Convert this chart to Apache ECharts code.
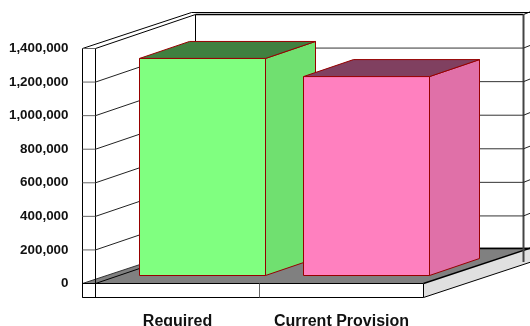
<!DOCTYPE html>
<html>
<head>
<meta charset="utf-8">
<style>html,body{margin:0;padding:0;background:#fff}#chart{width:530px;height:326px}</style>
<script src="https://cdn.jsdelivr.net/npm/echarts@6/dist/echarts.min.js"></script>
</head>
<body>
<div id="chart"></div>
<script>
// Provision figures
const categories = ['Required', 'Current Provision'];
const provisionValues = [1293000, 1185000];
const gridTicks = [200000, 400000, 600000, 800000, 1000000, 1200000, 1400000];

// Bar faces by category
const faceColors = ['#80ff80', '#ff80bf'];
const sideColors = ['#70e070', '#e070a8'];
const topColors = ['#408040', '#804060'];
const barEdge = '#960000';

// Oblique projection of the chart box
const DEPTH = { x: 100, y: -34 };
const OUTER = { x: 109, y: -36 };
const BAR_INSET = { x: 25, y: -8 };
const BAR_DEPTH = { x: 50, y: -17 };
const WALL = 13;
const BASE = 14;
const BAR_WIDTH = 126;

const line = '#000';
const poly = (pts, fill, stroke, w) => ({
  type: 'polygon', shape: { points: pts },
  style: { fill: fill, stroke: stroke || null, lineWidth: w || 1 }
});
const seg = (x1, y1, x2, y2, stroke, w) => ({
  type: 'line', shape: { x1, y1, x2, y2 },
  style: { stroke: stroke || line, lineWidth: w || 1 }
});

// Floor, base slab and the two walls
function renderBox(params, api) {
  const o = api.coord([0, 0]);
  const step = api.size([1, 0])[0];
  const x0 = o[0] - step / 2, y0 = o[1];
  const x1 = x0 + step * 2;
  const yTop = api.coord([0, 1400000])[1];
  const xL = x0 - WALL;
  const backX = x0 + DEPTH.x, backTop = yTop + DEPTH.y, backFloor = y0 + DEPTH.y;
  const xR = 523.5;
  return {
    type: 'group',
    children: [
      poly([[xL, y0], [xL + OUTER.x, y0 + OUTER.y], [x1 + OUTER.x, y0 + OUTER.y], [x1, y0]], '#808080', null),
      poly([[x1, y0], [x1, y0 + BASE], [x1 + OUTER.x, y0 + BASE + OUTER.y], [x1 + OUTER.x, y0 + OUTER.y]], '#e0e0e0', null),
      seg(xL, y0, xL + OUTER.x, y0 + OUTER.y, '#333'),
      seg(x0, y0, backX, backFloor),
      seg(backX, backFloor - 1, xR + 8, backFloor - 1, line, 1.5),
      seg(x1, y0, x1 + OUTER.x, y0 + OUTER.y, line, 1.5),
      seg(x1, y0 + BASE, x1 + OUTER.x, y0 + BASE + OUTER.y),
      { type: 'rect', shape: { x: xL, y: y0, width: x1 - xL, height: BASE },
        style: { fill: '#fff', stroke: line, lineWidth: 1 } },
      seg(x0, y0, x0, y0 + BASE),
      seg(x0 + step, y0, x0 + step, y0 + BASE, '#666'),
      seg(xL, yTop, xL, y0 + BASE),
      seg(x0, yTop, x0, y0 + BASE),
      seg(xL, yTop, x0, yTop),
      seg(xL, yTop, xL + OUTER.x, yTop + OUTER.y),
      seg(x0, yTop, backX, backTop),
      seg(xL + OUTER.x, yTop + OUTER.y, 540, yTop + OUTER.y),
      seg(backX, backTop, xR, backTop, line, 1.5),
      seg(xR, backTop, 531, backTop - 3),
      seg(backX, backTop, backX, backFloor),
      seg(xR, backTop, xR, 262, '#444', 2)
    ]
  };
}

// One gridline wrapping the left wall, the side and the back wall
function renderGridline(params, api) {
  const p = api.coord([0, api.value(1)]);
  const x0 = p[0] - api.size([1, 0])[0] / 2, y = p[1];
  const xR = 523.5;
  const children = [seg(x0 - WALL, y, x0, y, '#666')];
  if (api.value(1) < 1400000) {
    children.push(
      seg(x0, y, x0 + DEPTH.x, y + DEPTH.y, '#222'),
      seg(x0 + DEPTH.x, y + DEPTH.y, xR, y + DEPTH.y, '#333'),
      seg(xR, y + DEPTH.y, 531, y + DEPTH.y - 3, '#222')
    );
  }
  return { type: 'group', children };
}

// A box-shaped bar standing halfway into the depth of the floor
function renderBar(params, api) {
  const i = api.value(0);
  const base = api.coord([i, 0]);
  const head = api.coord([i, api.value(1)]);
  const l = base[0] + BAR_INSET.x - BAR_WIDTH / 2, r = l + BAR_WIDTH;
  const b = base[1] + BAR_INSET.y, t = head[1] + BAR_INSET.y;
  const bx = BAR_DEPTH.x, by = BAR_DEPTH.y;
  return {
    type: 'group',
    children: [
      poly([[r, t], [r + bx, t + by], [r + bx, b + by], [r, b]], sideColors[i], barEdge),
      poly([[l, t], [l + bx, t + by], [r + bx, t + by], [r, t]], topColors[i], barEdge),
      poly([[l, t], [r, t], [r, b], [l, b]], faceColors[i], barEdge)
    ]
  };
}

const chart = echarts.init(document.getElementById('chart'), null, { renderer: 'canvas' });
const labelFont = { color: '#111', fontFamily: 'Liberation Sans', fontWeight: 'bold' };
chart.setOption({
  animation: false,
  backgroundColor: '#fff',
  grid: { left: 95.5, top: 48.5, width: 328, height: 235, containLabel: false, outerBoundsMode: 'none' },
  xAxis: {
    type: 'category',
    data: categories,
    axisLine: { show: false },
    axisTick: { show: false },
    axisLabel: Object.assign({ margin: 30, fontSize: 16, interval: 0, hideOverlap: false }, labelFont)
  },
  yAxis: {
    type: 'value',
    min: 0,
    max: 1400000,
    interval: 200000,
    axisLine: { show: false },
    axisTick: { show: false },
    splitLine: { show: false },
    axisLabel: Object.assign({
      margin: 27,
      fontSize: 13.4,
      padding: [2, 0, 0, 0],
      formatter: v => v.toString().replace(/\B(?=(\d{3})+$)/g, ',')
    }, labelFont)
  },
  series: [
    { type: 'custom', name: 'box', silent: true, z: 1, clip: false,
      renderItem: renderBox, data: [[0, 0]] },
    { type: 'custom', name: 'gridlines', silent: true, z: 2, clip: false,
      renderItem: renderGridline, data: gridTicks.map(v => [0, v]) },
    { type: 'custom', name: 'provision', silent: true, z: 3, clip: false,
      renderItem: renderBar, data: provisionValues.map((v, i) => [i, v]) }
  ]
});
</script>
</body>
</html>
